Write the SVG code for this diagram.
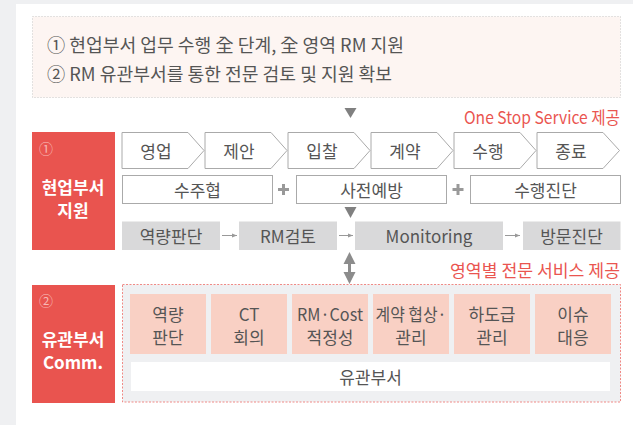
<svg xmlns="http://www.w3.org/2000/svg" width="633" height="425" viewBox="0 0 633 425">
<defs>
<style>
.t{font-family:"Noto Sans CJK KR","Noto Sans",sans-serif;fill:#555;dominant-baseline:central;}
.c{text-anchor:middle;}
.w{font-family:"Noto Sans CJK KR","Noto Sans",sans-serif;fill:#fff;font-weight:bold;dominant-baseline:central;text-anchor:middle;font-size:17px;}
.r{font-family:"Noto Sans CJK KR","Noto Sans",sans-serif;fill:#ea5550;dominant-baseline:central;text-anchor:end;font-size:17px;}
.stage{fill:#fff;stroke:#aaa;stroke-width:1;}
.wbox{fill:#fff;stroke:#aaa;stroke-width:1;}
.gbox{fill:#d9d9da;}
.pbox{fill:#f9d0c4;}
.red{fill:#e9544f;}
.arr{stroke:#999;stroke-width:1;fill:none;}
</style>
<marker id="ah" markerWidth="6" markerHeight="6" refX="5" refY="3" orient="auto" markerUnits="userSpaceOnUse">
<path d="M0,1 L5,3 L0,5 z" fill="#999"/>
</marker>
</defs>
<rect x="0" y="0" width="633" height="425" fill="#eff0f2"/>
<rect x="16" y="4" width="617" height="421" fill="#fff"/>

<g id="summary">
<rect x="32.5" y="16.5" width="588" height="81" fill="#fdf5f2" stroke="#c8c8c8" stroke-width="1" stroke-dasharray="1,2"/>
<text class="t" x="47" y="44" font-size="18" textLength="357" lengthAdjust="spacingAndGlyphs">① 현업부서 업무 수행 全 단계, 全 영역 RM 지원</text>
<text class="t" x="47" y="73" font-size="18" textLength="345" lengthAdjust="spacingAndGlyphs">② RM 유관부서를 통한 전문 검토 및 지원 확보</text>
</g>

<text class="r" x="620" y="116" textLength="156" lengthAdjust="spacingAndGlyphs">One Stop Service 제공</text>
<text class="r" x="620" y="269" textLength="170" lengthAdjust="spacingAndGlyphs">영역별 전문 서비스 제공</text>

<g id="section1">
<rect class="red" x="32" y="132" width="83" height="118"/>
<text x="46" y="148" font-family="Noto Sans CJK KR,sans-serif" font-size="14" fill="#f7b9b6" dominant-baseline="central" text-anchor="middle">①</text>
<text class="w" x="73" y="186">현업부서</text>
<text class="w" x="73" y="209">지원</text>
</g>

<g id="stages">
<g id="stage-sales"><polygon class="stage" points="122,132.5 188,132.5 204,150.5 188,168.5 122,168.5"/><text class="t c" x="156" y="150" font-size="17">영업</text></g>
<g id="stage-proposal"><polygon class="stage" points="205,132.5 271,132.5 287,150.5 271,168.5 205,168.5"/><text class="t c" x="239" y="150" font-size="17">제안</text></g>
<g id="stage-bid"><polygon class="stage" points="288,132.5 354,132.5 370,150.5 354,168.5 288,168.5"/><text class="t c" x="322" y="150" font-size="17">입찰</text></g>
<g id="stage-contract"><polygon class="stage" points="371,132.5 437,132.5 453,150.5 437,168.5 371,168.5"/><text class="t c" x="405" y="150" font-size="17">계약</text></g>
<g id="stage-exec"><polygon class="stage" points="454,132.5 520,132.5 536,150.5 520,168.5 454,168.5"/><text class="t c" x="488" y="150" font-size="17">수행</text></g>
<g id="stage-end"><polygon class="stage" points="537,132.5 603,132.5 619.5,150.5 603,168.5 537,168.5"/><text class="t c" x="571" y="150" font-size="17">종료</text></g>
</g>

<g id="row2">
<g id="suju"><rect class="wbox" x="122.5" y="175.5" width="150" height="28"/><text class="t c" x="197.5" y="189.5" font-size="17">수주협</text></g>
<g id="sajeon"><rect class="wbox" x="296.5" y="175.5" width="150" height="28"/><text class="t c" x="371.5" y="189.5" font-size="17">사전예방</text></g>
<g id="suhaeng"><rect class="wbox" x="470.5" y="175.5" width="150" height="28"/><text class="t c" x="545.5" y="189.5" font-size="17">수행진단</text></g>
<path d="M278,189.5 H289 M283.5,184 V195 M452.5,189.5 H463.5 M458,184 V195" stroke="#999" stroke-width="3"/>
</g>

<g id="row3">
<g id="g1"><rect class="gbox" x="122" y="221.5" width="98" height="28.5"/><text class="t c" x="171" y="235.5" font-size="17">역량판단</text></g>
<g id="g2"><rect class="gbox" x="239" y="221.5" width="98" height="28.5"/><text class="t c" x="288" y="235.5" font-size="17">RM검토</text></g>
<g id="g3"><rect class="gbox" x="355" y="221.5" width="148" height="28.5"/><text class="t c" x="429" y="235.5" font-size="17">Monitoring</text></g>
<g id="g4"><rect class="gbox" x="523" y="221.5" width="97.5" height="28.5"/><text class="t c" x="571.5" y="235.5" font-size="17">방문진단</text></g>
</g>

<g id="connectors">
<polygon points="344.5,108 356.5,108 350.5,118" fill="#808080"/>
<polygon points="344.5,207 356.5,207 350.5,218" fill="#808080"/>
<line class="arr" x1="222" y1="235.5" x2="237" y2="235.5" marker-end="url(#ah)"/>
<line class="arr" x1="339" y1="235.5" x2="353" y2="235.5" marker-end="url(#ah)"/>
<line class="arr" x1="505" y1="235.5" x2="520" y2="235.5" marker-end="url(#ah)"/>
<path d="M343.5,264 L349.5,252 L355.5,264 H351 V272 H355.5 L349.5,284 L343.5,272 H348 V264 Z" fill="#8c8c8c"/>
</g>

<g id="section2">
<rect class="red" x="32" y="285" width="83" height="118"/>
<text x="46" y="300" font-family="Noto Sans CJK KR,sans-serif" font-size="14" fill="#f7b9b6" dominant-baseline="central" text-anchor="middle">②</text>
<text class="w" x="73" y="338">유관부서</text>
<text class="w" x="73" y="361">Comm.</text>
</g>

<g id="services">
<rect x="122.5" y="284.5" width="498" height="117.5" fill="#eff0f2" stroke="#f08a86" stroke-width="1" stroke-dasharray="2,1.5"/>
<g id="s1"><rect class="pbox" x="130" y="294" width="76" height="60"/><text class="t c" x="168" y="313" font-size="17">역량</text><text class="t c" x="168" y="336" font-size="17">판단</text></g>
<g id="s2"><rect class="pbox" x="211" y="294" width="76" height="60"/><text class="t c" x="249" y="313" font-size="17">CT</text><text class="t c" x="249" y="336" font-size="17">회의</text></g>
<g id="s3"><rect class="pbox" x="292" y="294" width="76" height="60"/><text class="t c" x="330" y="313" font-size="17" textLength="66" lengthAdjust="spacingAndGlyphs">RM·Cost</text><text class="t c" x="330" y="336" font-size="17">적정성</text></g>
<g id="s4"><rect class="pbox" x="373" y="294" width="76" height="60"/><text class="t c" x="411" y="313" font-size="17" textLength="71" lengthAdjust="spacingAndGlyphs">계약 협상·</text><text class="t c" x="411" y="336" font-size="17">관리</text></g>
<g id="s5"><rect class="pbox" x="454" y="294" width="76" height="60"/><text class="t c" x="492" y="313" font-size="17">하도급</text><text class="t c" x="492" y="336" font-size="17">관리</text></g>
<g id="s6"><rect class="pbox" x="535" y="294" width="76" height="60"/><text class="t c" x="573" y="313" font-size="17">이슈</text><text class="t c" x="573" y="336" font-size="17">대응</text></g>
<g id="dept"><rect x="131" y="362" width="479" height="29" fill="#fff"/><text class="t c" x="370.5" y="376.5" font-size="17">유관부서</text></g>
</g>
</svg>
